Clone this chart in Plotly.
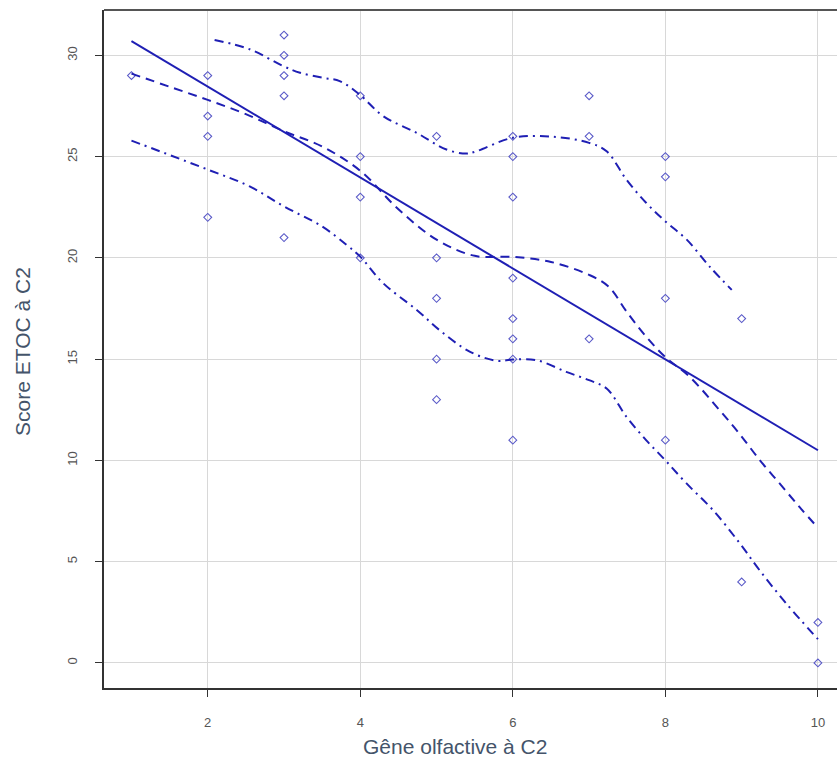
import plotly.graph_objects as go

# Observed scores (x = olfactory discomfort, y = ETOC score)
obs_x = [1,
         2, 2, 2, 2,
         3, 3, 3, 3, 3,
         4, 4, 4, 4,
         5, 5, 5, 5, 5,
         6, 6, 6, 6, 6, 6, 6, 6,
         7, 7, 7,
         8, 8, 8, 8,
         9, 9,
         10, 10]
obs_y = [29,
         29, 27, 26, 22,
         31, 30, 29, 28, 21,
         28, 25, 23, 20,
         26, 20, 18, 15, 13,
         26, 25, 23, 19, 17, 16, 15, 11,
         28, 26, 16,
         25, 24, 18, 11,
         17, 4,
         2, 0]

# Linear fit
fit_x = [1, 10]
fit_y = [30.7, 10.5]

# Smoothed trend
smooth_x = [1, 1.5, 2, 2.5, 3, 3.5, 4, 4.5, 5, 5.5, 6, 6.5, 7, 7.25, 7.5, 7.75,
            8, 8.32, 8.71, 8.97, 9.24, 9.5, 9.76, 10]
smooth_y = [29.1, 28.45, 27.8, 27.1, 26.25, 25.5, 24.3, 22.4, 20.9, 20.1, 20.05,
            19.8, 19.16, 18.6, 17.3, 16.1, 15.1, 14.12, 12.48, 11.32, 10.0, 8.85,
            7.69, 6.67]

# Upper spread
upper_x = [2.09, 2.55, 2.99, 3.21, 3.51, 3.73, 3.99, 4.30, 4.74, 5.13, 5.39, 5.52,
           6.0, 6.53, 7.0, 7.23, 7.49, 7.75, 8.0, 8.28, 8.58, 8.87]
upper_y = [30.76, 30.3, 29.47, 29.14, 28.89, 28.73, 28.07, 27.0, 26.17, 25.35, 25.15,
           25.26, 25.93, 25.98, 25.68, 25.26, 23.86, 22.71, 21.8, 20.9, 19.57, 18.42]

# Lower spread
lower_x = [1, 2, 2.55, 3, 3.5, 3.82, 4, 4.3, 4.74, 5.05, 5.44, 5.79, 6, 6.31, 6.7, 7.0,
           7.23, 7.49, 7.75, 8.0, 8.28, 8.63, 8.98, 9.24, 9.59, 10]
lower_y = [25.79, 24.36, 23.53, 22.54, 21.55, 20.64, 20.06, 18.75, 17.43, 16.4, 15.36,
           14.92, 14.98, 14.95, 14.37, 13.96, 13.55, 12.15, 10.99, 10.0, 8.85, 7.52,
           5.88, 4.55, 2.91, 1.17]

x_ticks = [2, 4, 6, 8, 10]
y_ticks = [0, 5, 10, 15, 20, 25, 30]

line_col = "#1f1fb4"
pt_col = "#5a5ac8"

fig = go.Figure()
fig.add_trace(go.Scatter(x=obs_x, y=obs_y, mode="markers",
                         marker=dict(symbol="diamond-open", size=6,
                                     color=pt_col, line=dict(width=1.1, color=pt_col))))
fig.add_trace(go.Scatter(x=fit_x, y=fit_y, mode="lines",
                         line=dict(color=line_col, width=2)))
fig.add_trace(go.Scatter(x=smooth_x, y=smooth_y, mode="lines", line_shape="spline",
                         line=dict(color=line_col, width=2, dash="9px,6px")))
fig.add_trace(go.Scatter(x=upper_x, y=upper_y, mode="lines", line_shape="spline",
                         line=dict(color=line_col, width=2, dash="9px,5px,2px,5px")))
fig.add_trace(go.Scatter(x=lower_x, y=lower_y, mode="lines", line_shape="spline",
                         line=dict(color=line_col, width=2, dash="9px,5px,2px,5px")))

tick_font = dict(family="Liberation Sans, Arial, sans-serif", size=13, color="#555555")
title_font = dict(family="Liberation Sans, Arial, sans-serif", size=21, color="#44546a")

fig.update_layout(
    width=837, height=772,
    margin=dict(l=104, r=0, t=10, b=84),
    paper_bgcolor="white", plot_bgcolor="white",
    showlegend=False,
    xaxis=dict(range=[0.64, 10.25], tickvals=x_ticks, ticks="outside", ticklen=7,
               tickcolor="#333333", tickwidth=1.2, tickfont=tick_font,
               ticklabelstandoff=15,
               showgrid=True, gridcolor="#d8d8d8", gridwidth=1, zeroline=False,
               showline=True, linecolor="#333333", linewidth=1.5),
    yaxis=dict(range=[-1.24, 32.24], tickvals=y_ticks, ticks="outside", ticklen=7,
               tickcolor="#333333", tickwidth=1.2, tickfont=tick_font, tickangle=-90,
               ticklabelstandoff=13,
               showgrid=True, gridcolor="#d8d8d8", gridwidth=1, zeroline=False,
               showline=True, linecolor="#333333", linewidth=1.5),
    shapes=[dict(type="line", xref="paper", yref="paper", x0=0, x1=1, y0=1, y1=1,
                 line=dict(color="#555555", width=2))],
    annotations=[
        dict(text="Gêne olfactive à C2", xref="paper", yref="paper",
             x=(455 - 104) / 733, y=-(746 - 688) / 678, xanchor="center", yanchor="middle",
             showarrow=False, font=title_font),
        dict(text="Score ETOC à C2", xref="paper", yref="paper",
             x=-(104 - 22) / 733, y=(688 - 352) / 678, xanchor="center", yanchor="middle",
             textangle=-90, showarrow=False, font=title_font),
    ],
)

fig.write_html("out.html")
